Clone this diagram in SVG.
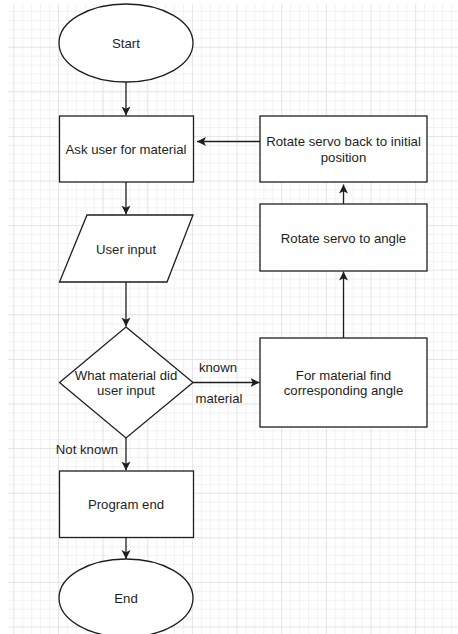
<svg xmlns="http://www.w3.org/2000/svg" width="458" height="634" viewBox="0 0 458 634">
<style>
.shape{fill:#fff;stroke:#1e1e1e;stroke-width:1.3}
.edge{fill:none;stroke:#1e1e1e;stroke-width:1.3}
text{font-family:"Liberation Sans",Arial,Helvetica,sans-serif;font-size:13.2px;fill:#1e1e1e;text-anchor:middle}
</style>
<defs>
<pattern id="grid" patternUnits="userSpaceOnUse" x="13.3" y="2.1" width="44.65" height="44.6">
<rect x="0" y="0" width="44.65" height="44.6" fill="#fff"/>
<g fill="#f2f2f2">
<rect x="8.93" y="0" width="1" height="44.6"/>
<rect x="17.86" y="0" width="1" height="44.6"/>
<rect x="26.79" y="0" width="1" height="44.6"/>
<rect x="35.72" y="0" width="1" height="44.6"/>
<rect x="0" y="8.92" width="44.65" height="1"/>
<rect x="0" y="17.84" width="44.65" height="1"/>
<rect x="0" y="26.76" width="44.65" height="1"/>
<rect x="0" y="35.68" width="44.65" height="1"/>
</g>
<g fill="#e4e4e4">
<rect x="0" y="0" width="1" height="44.6"/>
<rect x="0" y="0" width="44.65" height="1"/>
</g>
</pattern>
<marker id="arr" markerUnits="userSpaceOnUse" markerWidth="12" markerHeight="12" refX="9" refY="5" orient="auto">
<path d="M0,0.5 L9,5 L0,9.5 L2.2,5 Z" fill="#1e1e1e"/>
</marker>
</defs>
<rect x="0" y="0" width="458" height="634" fill="#fff"/>
<rect x="8" y="4" width="450" height="630" fill="url(#grid)"/>

<g id="connectors">
<line class="edge" x1="126" y1="82" x2="126" y2="115.5" marker-end="url(#arr)"/>
<line class="edge" x1="126" y1="182" x2="126" y2="214.5" marker-end="url(#arr)"/>
<line class="edge" x1="126" y1="282" x2="126" y2="326.5" marker-end="url(#arr)"/>
<line class="edge" x1="193" y1="382.5" x2="259.5" y2="382.5" marker-end="url(#arr)"/>
<line class="edge" x1="343.5" y1="338" x2="343.5" y2="271.5" marker-end="url(#arr)"/>
<line class="edge" x1="343.5" y1="204" x2="343.5" y2="184.5" marker-end="url(#arr)"/>
<line class="edge" x1="260" y1="141.5" x2="197" y2="141.5" marker-end="url(#arr)"/>
<line class="edge" x1="126" y1="438" x2="126" y2="470.5" marker-end="url(#arr)"/>
<line class="edge" x1="126" y1="537.5" x2="126" y2="559" marker-end="url(#arr)"/>
<text x="218" y="371.5">known</text>
<text x="219" y="402.5">material</text>
<text x="87" y="453.5">Not known</text>
</g>

<g id="start">
<ellipse class="shape" cx="126" cy="43" rx="67" ry="39"/>
<text x="126" y="47.5">Start</text>
</g>
<g id="ask">
<rect class="shape" x="59.5" y="116" width="134" height="66"/>
<text x="126" y="153.5">Ask user for material</text>
</g>
<g id="rotate-back">
<rect class="shape" x="260" y="116" width="167" height="66"/>
<text x="343.5" y="146">Rotate servo back to initial</text>
<text x="343.5" y="161.5">position</text>
</g>
<g id="user-input">
<polygon class="shape" points="87,215 193,215 167,282 59.5,282"/>
<text x="126" y="253.5">User input</text>
</g>
<g id="rotate-angle">
<rect class="shape" x="260" y="204" width="167" height="67"/>
<text x="343.5" y="242.5">Rotate servo to angle</text>
</g>
<g id="decision">
<polygon class="shape" points="126,327 193,382.5 126,438 59.5,382.5"/>
<text x="126" y="379.5">What material did</text>
<text x="126" y="395">user input</text>
</g>
<g id="find-angle">
<rect class="shape" x="260" y="338" width="167" height="89"/>
<text x="343.5" y="379.5">For material find</text>
<text x="343.5" y="395">corresponding angle</text>
</g>
<g id="program-end">
<rect class="shape" x="59.5" y="471" width="134" height="66.5"/>
<text x="126" y="509">Program end</text>
</g>
<g id="end">
<ellipse class="shape" cx="126" cy="598" rx="67" ry="39"/>
<text x="126" y="603">End</text>
</g>
</svg>
